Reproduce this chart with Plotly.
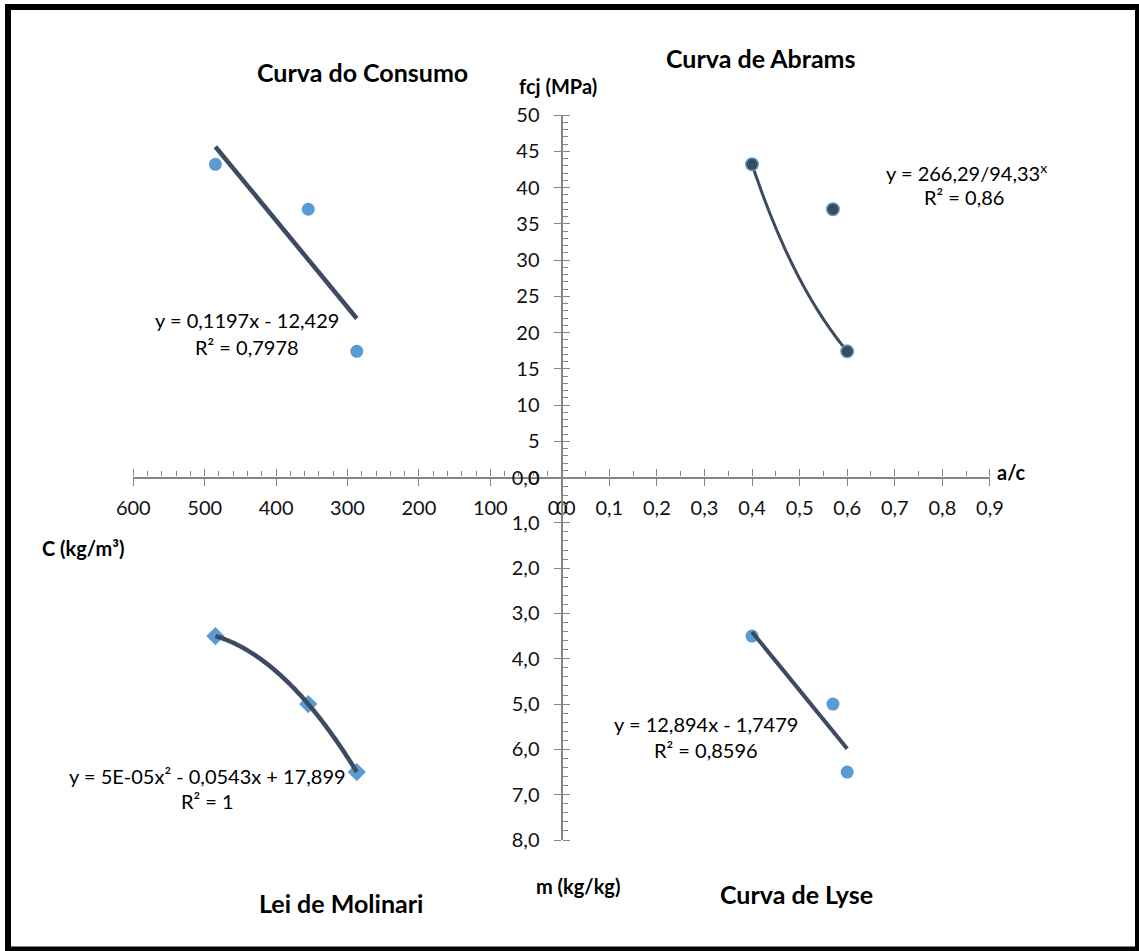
import numpy as np
import plotly.graph_objects as go

# --- data -------------------------------------------------------------
wc_ratio = [0.40, 0.57, 0.60]        # a/c
fcj = [43.2, 37.0, 17.4]             # fcj (MPa)
cement = [485, 355, 287]             # C (kg/m3)
m_agg = [3.5, 5.0, 6.5]              # m (kg/kg)

abrams_A, abrams_B = 266.29, 94.33            # y = A / B^x
consumo_slope, consumo_icpt = 0.1197, -12.429  # y = a x + b
lyse_slope, lyse_icpt = 12.894, -1.7479        # y = a x + b

fcj_ticks = [0, 5, 10, 15, 20, 25, 30, 35, 40, 45, 50]
wc_ticks = [0.0, 0.1, 0.2, 0.3, 0.4, 0.5, 0.6, 0.7, 0.8, 0.9]
cement_ticks = [0, 100, 200, 300, 400, 500, 600]
m_ticks = [0, 1, 2, 3, 4, 5, 6, 7, 8]

# --- page geometry ----------------------------------------------------
W, H = 1139, 951
def px(x):
    return x / W
def py(y):
    return 1 - y / H

ORIGIN_X, ORIGIN_Y = 561.7, 477.5
X_RIGHT = [px(ORIGIN_X), px(990)]
X_LEFT = [px(133.3), px(ORIGIN_X)]
Y_TOP = [py(ORIGIN_Y), py(115)]
Y_BOT = [py(840), py(ORIGIN_Y)]

FONT = "Lato"
AXIS_GREY = "#868686"
TREND = "#3D4B60"
BLUE = "#5B9BD5"

fig = go.Figure()

# Curva de Abrams (a/c vs fcj)
x_ab = np.linspace(min(wc_ratio), max(wc_ratio), 120)
fig.add_trace(go.Scatter(x=x_ab, y=abrams_A / abrams_B ** x_ab, mode="lines",
                         line=dict(color=TREND, width=3, simplify=False),
                         xaxis="x", yaxis="y"))
fig.add_trace(go.Scatter(x=wc_ratio, y=fcj, mode="markers", xaxis="x", yaxis="y",
                         marker=dict(size=12.5, color="#3B4A5F",
                                     line=dict(color=BLUE, width=1.5))))

# Curva do Consumo (C vs fcj)
x_co = np.array([min(cement), max(cement)], dtype=float)
fig.add_trace(go.Scatter(x=cement, y=fcj, mode="markers", xaxis="x2", yaxis="y2",
                         marker=dict(size=13, color=BLUE)))
fig.add_trace(go.Scatter(x=x_co, y=consumo_slope * x_co + consumo_icpt, mode="lines",
                         line=dict(color=TREND, width=4.5), xaxis="x2", yaxis="y2"))

# Lei de Molinari (C vs m), second-order fit through the points
mol_coef = np.polyfit(cement, m_agg, 2)
x_mo = np.linspace(min(cement), max(cement), 120)
fig.add_trace(go.Scatter(x=cement, y=m_agg, mode="markers", xaxis="x3", yaxis="y3",
                         marker=dict(size=14, color=BLUE, symbol="diamond")))
fig.add_trace(go.Scatter(x=x_mo, y=np.polyval(mol_coef, x_mo), mode="lines",
                         line=dict(color=TREND, width=4.5, simplify=False),
                         xaxis="x3", yaxis="y3"))

# Curva de Lyse (a/c vs m)
x_ly = np.array([min(wc_ratio), max(wc_ratio)])
fig.add_trace(go.Scatter(x=wc_ratio, y=m_agg, mode="markers", xaxis="x4", yaxis="y4",
                         marker=dict(size=13, color=BLUE)))
fig.add_trace(go.Scatter(x=x_ly, y=lyse_slope * x_ly + lyse_icpt, mode="lines",
                         line=dict(color=TREND, width=4), xaxis="x4", yaxis="y4"))

# --- axes -------------------------------------------------------------
tickfont = dict(family=FONT, size=20, color="#111111")
base = dict(showgrid=False, zeroline=False, showline=True, linecolor=AXIS_GREY,
            linewidth=1.4, tickcolor=AXIS_GREY, tickwidth=1.4, ticks="outside",
            ticklen=7, tickfont=tickfont, fixedrange=True)
EPS = 1e-4

def minor(dt):
    return dict(ticks="outside", ticklen=5, tickcolor=AXIS_GREY, tickwidth=1.2,
                dtick=dt, tick0=0, showgrid=False)

fig.update_layout(
    xaxis=dict(base, domain=X_RIGHT, range=[0, 0.9 + EPS], anchor="y", side="bottom",
               tickvals=wc_ticks, tickformat=".1f", ticklabelstandoff=5),
    yaxis=dict(base, domain=Y_TOP, range=[0, 50 + EPS], anchor="x", side="left",
               tickvals=fcj_ticks, ticklabelstandoff=10),
    xaxis2=dict(base, domain=X_LEFT, range=[600 + EPS, 0], anchor="y2", side="bottom",
                tickvals=cement_ticks, ticklabelstandoff=5),
    yaxis2=dict(base, domain=Y_TOP, range=[0, 50 + EPS], anchor="x2", side="right",
                tickvals=fcj_ticks, showticklabels=False, minor=minor(1)),
    xaxis3=dict(base, domain=X_LEFT, range=[600 + EPS, 0], anchor="y3", side="top",
                tickvals=cement_ticks, showticklabels=False, minor=minor(20)),
    yaxis3=dict(base, domain=Y_BOT, range=[8 + EPS, 0], anchor="x3", side="right",
                tickvals=m_ticks, showticklabels=False, minor=minor(0.2)),
    xaxis4=dict(base, domain=X_RIGHT, range=[0, 0.9 + EPS], anchor="y4", side="top",
                tickvals=wc_ticks, showticklabels=False, minor=minor(0.05)),
    yaxis4=dict(base, domain=Y_BOT, range=[8 + EPS, 0], anchor="x4", side="left",
                tickvals=m_ticks, tickformat=".1f", ticklabelstandoff=10),
)

# --- text -------------------------------------------------------------
def label(text, x, y, size, bold=False, xanchor="center"):
    if bold:
        text = "<b>" + text + "</b>"
    fig.add_annotation(text=text, x=px(x), y=py(y), xref="paper", yref="paper",
                       showarrow=False, xanchor=xanchor, yanchor="middle",
                       font=dict(family=FONT, size=size, color="#000000"))

TITLE = 25
AXT = 20
EQ = 20
label("Curva do Consumo", 362, 72, TITLE, True)
label("Curva de Abrams", 761, 58, TITLE, True)
label("Lei de Molinari", 341, 903, TITLE, True)
label("Curva de Lyse", 796, 894, TITLE, True)

label("fcj (MPa)", 558, 86, AXT, True)
label("a/c", 995, 472, AXT, True, xanchor="left")
label("C (kg/m³)", 83, 548, AXT, True)
label("m (kg/kg)", 578, 886, AXT, True)

label("y = 0,1197x - 12,429", 247, 320, EQ)
label("R² = 0,7978", 247, 347, EQ)
label("y = 266,29/94,33<sup>x</sup>", 966, 172, EQ)
label("R² = 0,86", 964, 197, EQ)
label("y = 5E-05x² - 0,0543x + 17,899", 207, 776, EQ)
label("R² = 1", 207, 801, EQ)
label("y = 12,894x - 1,7479", 706, 724, EQ)
label("R² = 0,8596", 706, 750, EQ)

# outer frame
fig.add_shape(type="rect", xref="paper", yref="paper",
              x0=px(8), x1=px(1138), y0=py(949.5), y1=py(7),
              line=dict(color="#000000", width=6), fillcolor="rgba(0,0,0,0)")

fig.update_layout(
    width=W, height=H, margin=dict(l=0, r=0, t=0, b=0, autoexpand=False),
    paper_bgcolor="white", plot_bgcolor="white", showlegend=False,
    separators=", ", font=dict(family=FONT),
)

fig.write_html("out.html", config={"displayModeBar": False})
